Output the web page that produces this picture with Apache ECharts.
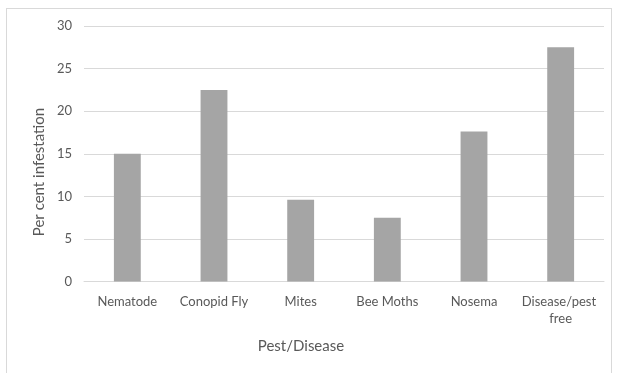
<!DOCTYPE html>
<html><head><meta charset="utf-8">
<script src="https://cdn.jsdelivr.net/npm/echarts@6/dist/echarts.min.js"></script>
<style>
html,body{margin:0;padding:0;background:#fff;}
#frame{position:absolute;left:6px;top:8px;width:606px;height:380px;border:1px solid #d9d9d9;box-sizing:border-box;}
#c{position:absolute;left:0;top:0;width:620px;height:373px;}
</style></head>
<body><div id="frame"></div><div id="c"></div>
<script>
var categories = ["Nematode", "Conopid Fly", "Mites", "Bee Moths", "Nosema", "Disease/pest free"];
var values = [15, 22.5, 9.6, 7.5, 17.6, 27.5];
var yTicks = [0, 5, 10, 15, 20, 25, 30];
var xTitle = "Pest/Disease";
var yTitle = "Per cent infestation";

var font = "Lato, 'Open Sans', sans-serif";
var chart = echarts.init(document.getElementById('c'), null, {renderer: 'canvas'});
chart.setOption({
  animation: false,
  grid: {left: 84, right: 16, top: 26, bottom: 91.5, containLabel: false},
  xAxis: {
    type: 'category', data: categories,
    axisLine: {show: true, lineStyle: {color: '#d9d9d9', width: 1}},
    axisTick: {show: false},
    axisLabel: {color: '#595959', fontFamily: font, fontSize: 13, margin: 12, lineHeight: 17,
      width: 86, overflow: 'break', interval: 0}
  },
  yAxis: {
    type: 'value', min: yTicks[0], max: yTicks[yTicks.length-1], interval: 5,
    axisLine: {show: false}, axisTick: {show: false},
    splitLine: {lineStyle: {color: '#d9d9d9', width: 1}},
    axisLabel: {color: '#595959', fontFamily: font, fontSize: 13, margin: 12}
  },
  series: [{
    type: 'bar', data: values, barWidth: '31%',
    itemStyle: {color: '#a5a5a5'}
  }],
  graphic: [
    {type: 'text', x: 301, y: 346, style: {text: xTitle, fill: '#595959', font: '15px ' + font, textAlign: 'center', textVerticalAlign: 'middle'}},
    {type: 'text', x: 39, y: 172, rotation: Math.PI/2, style: {text: yTitle, fill: '#595959', font: '15px ' + font, textAlign: 'center', textVerticalAlign: 'middle'}}
  ]
});
</script></body></html>
